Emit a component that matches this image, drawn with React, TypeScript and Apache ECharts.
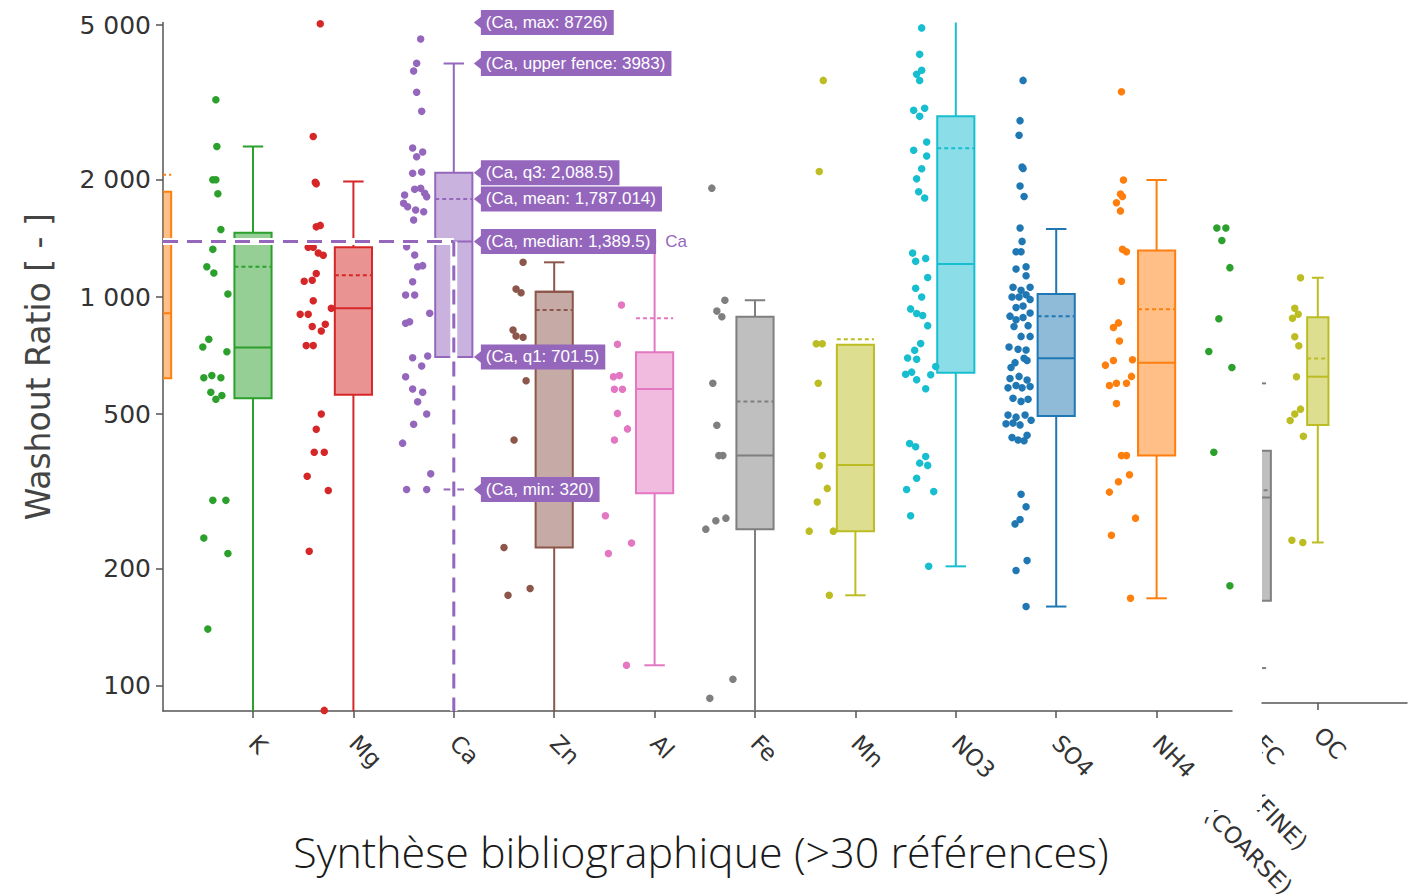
import React, { useEffect, useRef } from "react";
import * as echarts from "echarts";

// ---------------- axes ----------------
const Y_MIN = 86.2;
const Y_MAX = 5080;
const Y_TICKS = [100, 200, 500, 1000, 2000, 5000];
const Y_TICK_LABELS = ["100", "200", "500", "1 000", "2 000", "5 000"];

// main panel: categories at integer positions 0..11 (0 and 11 are only partly in view)
const MAIN_CATEGORIES = ["", "K", "Mg", "Ca", "Zn", "Al", "Fe", "Mn", "NO3", "SO4", "NH4", ""];
const MAIN_LABELLED = [1, 2, 3, 4, 5, 6, 7, 8, 9, 10];
const MAIN_X_RANGE = [0.1036, 10.751];
const MAIN_COLORS = ["#ff7f0e", "#2ca02c", "#d62728", "#9467bd", "#8c564b", "#e377c2", "#7f7f7f", "#bcbd22", "#17becf", "#1f77b4", "#ff7f0e", "#2ca02c"];

// box statistics per main category (null = box not in view)
const BOX_LOW = [200, 70, 70, 320, 70, 113, 70, 171, 203, 160, 168, null];
const BOX_Q1 = [618, 549, 561, 701.5, 227, 313, 253, 250, 639, 494, 391, null];
const BOX_MEDIAN = [908, 742, 935, 1389.5, 1032, 580, 391, 370, 1215, 696, 678, null];
const BOX_Q3 = [1865, 1463, 1343, 2088.5, 1032, 721, 890, 754, 2914, 1018, 1318, null];
const BOX_HIGH = [2500, 2437, 1983, 3983, 1228, 1390, 981, 754, 8000, 1496, 2000, null];
const BOX_MEAN = [2063, 1196, 1137, 1787.014, 926, 882, 539, 779, 2413, 893, 930, null];

// individual points (values) and their horizontal jitter (category units)
const K_VALUES = [3214, 2437, 2003, 2003, 1843, 1491, 1326, 1196, 1153, 1018, 779, 744, 723, 620, 628, 620, 569, 546, 558, 300, 300, 240, 219, 140];
const K_JITTER = [-0.37, -0.36, -0.4, -0.37, -0.35, -0.32, -0.4, -0.46, -0.39, -0.25, -0.44, -0.5, -0.26, -0.49, -0.41, -0.32, -0.42, -0.37, -0.31, -0.4, -0.27, -0.49, -0.25, -0.45];
const MG_VALUES = [5045, 2586, 1972, 1956, 1515, 1528, 1343, 1343, 1298, 1280, 1149, 1098, 1104, 978, 903, 903, 935, 840, 851, 818, 750, 750, 500, 457, 399, 399, 346, 318, 222, 86.5];
const MG_JITTER = [-0.33, -0.4, -0.38, -0.37, -0.37, -0.33, -0.45, -0.4, -0.35, -0.3, -0.37, -0.49, -0.41, -0.4, -0.53, -0.45, -0.22, -0.41, -0.28, -0.32, -0.47, -0.4, -0.32, -0.37, -0.39, -0.29, -0.46, -0.25, -0.44, -0.29];
const CA_VALUES = [4605, 3989, 3811, 3360, 3002, 2416, 2360, 2294, 2080, 2096, 1892, 1903, 1848, 1829, 1811, 1741, 1707, 1674, 1657, 1578, 1347, 1282, 1196, 1204, 1095, 1012, 1012, 908, 856, 864, 698, 705, 665, 624, 580, 569, 538, 500, 471, 421, 351, 320, 320];
const CA_JITTER = [-0.33, -0.37, -0.4, -0.37, -0.32, -0.41, -0.31, -0.37, -0.41, -0.32, -0.39, -0.33, -0.29, -0.49, -0.27, -0.5, -0.46, -0.38, -0.3, -0.4, -0.47, -0.39, -0.36, -0.31, -0.41, -0.48, -0.39, -0.24, -0.48, -0.44, -0.41, -0.26, -0.32, -0.48, -0.41, -0.31, -0.36, -0.27, -0.4, -0.51, -0.23, -0.47, -0.27];
const ZN_VALUES = [1228, 1048, 1026, 823, 794, 788, 609, 429, 227, 171, 178];
const ZN_JITTER = [-0.31, -0.38, -0.33, -0.41, -0.38, -0.31, -0.28, -0.4, -0.5, -0.46, -0.24];
const AL_VALUES = [954, 756, 624, 628, 579, 579, 502, 458, 429, 274, 219, 233, 113];
const AL_JITTER = [-0.33, -0.37, -0.41, -0.35, -0.4, -0.32, -0.37, -0.27, -0.4, -0.49, -0.46, -0.23, -0.28];
const FE_VALUES = [1905, 981, 920, 890, 600, 468, 391, 391, 253, 266, 270, 104, 92.9];
const FE_JITTER = [-0.43, -0.3, -0.38, -0.33, -0.42, -0.38, -0.36, -0.32, -0.49, -0.39, -0.29, -0.22, -0.45];
const MN_VALUES = [3606, 2103, 758, 758, 600, 391, 368, 322, 297, 250, 250, 171];
const MN_JITTER = [-0.32, -0.36, -0.39, -0.33, -0.37, -0.33, -0.36, -0.28, -0.38, -0.46, -0.22, -0.26];
const NO3_VALUES = [4920, 4207, 3738, 3828, 3604, 3021, 2914, 3057, 2385, 2503, 2305, 2138, 2013, 1864, 1797, 1297, 1236, 1257, 1122, 1053, 1000, 932, 907, 896, 844, 759, 730, 697, 692, 633, 641, 613, 581, 631, 663, 420, 412, 389, 374, 369, 342, 320, 316, 274, 203];
const NO3_JITTER = [-0.34, -0.36, -0.39, -0.34, -0.36, -0.42, -0.36, -0.31, -0.42, -0.29, -0.29, -0.34, -0.39, -0.37, -0.31, -0.43, -0.4, -0.3, -0.28, -0.4, -0.34, -0.45, -0.39, -0.33, -0.28, -0.35, -0.41, -0.48, -0.39, -0.5, -0.44, -0.39, -0.3, -0.25, -0.2, -0.46, -0.4, -0.3, -0.36, -0.28, -0.39, -0.49, -0.22, -0.45, -0.27];
const SO4_VALUES = [3606, 2841, 2607, 2160, 2140, 1930, 1814, 1504, 1390, 1307, 1307, 1181, 1196, 1134, 1060, 1041, 1060, 1000, 1000, 1013, 986, 940, 948, 910, 893, 874, 886, 844, 840, 792, 792, 744, 734, 731, 696, 678, 687, 659, 617, 625, 612, 584, 592, 584, 589, 549, 539, 546, 497, 491, 497, 472, 474, 469, 482, 435, 429, 427, 441, 311, 289, 261, 268, 198, 210, 160];
const SO4_JITTER = [-0.33, -0.36, -0.37, -0.34, -0.33, -0.36, -0.32, -0.36, -0.34, -0.4, -0.35, -0.4, -0.3, -0.3, -0.43, -0.35, -0.26, -0.44, -0.37, -0.3, -0.26, -0.4, -0.33, -0.26, -0.46, -0.4, -0.33, -0.28, -0.42, -0.35, -0.26, -0.47, -0.38, -0.3, -0.32, -0.41, -0.29, -0.45, -0.46, -0.37, -0.29, -0.48, -0.4, -0.34, -0.26, -0.43, -0.35, -0.28, -0.48, -0.4, -0.31, -0.5, -0.43, -0.36, -0.25, -0.44, -0.38, -0.32, -0.29, -0.35, -0.3, -0.41, -0.36, -0.4, -0.29, -0.3];
const NH4_VALUES = [3373, 2000, 1839, 1814, 1747, 1665, 1326, 1307, 1098, 835, 858, 771, 668, 687, 690, 592, 600, 600, 625, 532, 391, 391, 349, 335, 315, 270, 244, 168];
const NH4_JITTER = [-0.35, -0.33, -0.36, -0.34, -0.4, -0.36, -0.34, -0.3, -0.35, -0.43, -0.38, -0.37, -0.51, -0.43, -0.24, -0.47, -0.4, -0.3, -0.25, -0.4, -0.35, -0.3, -0.27, -0.38, -0.47, -0.21, -0.45, -0.26];
const NEXT_VALUES = [1504, 1504, 1398, 1190, 879, 724, 659, 399, 181];
const NEXT_JITTER = [-0.4, -0.31, -0.35, -0.27, -0.38, -0.48, -0.25, -0.43, -0.27];

const MAIN_POINTS: [number, number[], number[]][] = [
  [1, K_VALUES, K_JITTER],
  [2, MG_VALUES, MG_JITTER],
  [3, CA_VALUES, CA_JITTER],
  [4, ZN_VALUES, ZN_JITTER],
  [5, AL_VALUES, AL_JITTER],
  [6, FE_VALUES, FE_JITTER],
  [7, MN_VALUES, MN_JITTER],
  [8, NO3_VALUES, NO3_JITTER],
  [9, SO4_VALUES, SO4_JITTER],
  [10, NH4_VALUES, NH4_JITTER],
  [11, NEXT_VALUES, NEXT_JITTER],
];

// right-hand inset panel
const PANEL_CATEGORIES = ["EC (COARSE)", "EC (FINE)", "OC"];
const PANEL_POSITIONS = [15, 16, 17];
const PANEL_X_RANGE = [16.031, 18.549];
const PANEL_COLORS = ["#e377c2", "#7f7f7f", "#bcbd22"];
const PANEL_BOX_LOW = [null, 106, 223];
const PANEL_BOX_Q1 = [null, 158, 447];
const PANEL_BOX_MEDIAN = [null, 291, 595];
const PANEL_BOX_Q3 = [null, 384, 846];
const PANEL_BOX_HIGH = [null, 572, 1069];
const PANEL_BOX_MEAN = [null, 304, 663];
const OC_VALUES = [1069, 892, 861, 841, 754, 715, 595, 491, 477, 459, 418, 226, 223];
const OC_JITTER = [-0.3, -0.4, -0.34, -0.44, -0.4, -0.33, -0.37, -0.3, -0.4, -0.48, -0.25, -0.45, -0.26];

// Ca hover annotation
const HOVER_CATEGORY = 3;
const HOVER_KEYS = ["max", "upper fence", "q3", "mean", "median", "q1", "min"];
const HOVER_VALUES = [8726, 3983, 2088.5, 1787.014, 1389.5, 701.5, 320];
const HOVER_DISPLAY = ["8726", "3983", "2,088.5", "1,787.014", "1,389.5", "701.5", "320"];

const TITLE = "Synthèse bibliographique (>30 références)";
const Y_TITLE = "Washout Ratio [ - ]";

// ---------------- styling ----------------
const BOX_WIDTH = 0.37;
const CAP_RATIO = 0.55;
const FONT = '"DejaVu Sans", Verdana, sans-serif';
const HOVER_FONT = '"Liberation Sans", Arial, sans-serif';
const TEXT_COLOR = "#333";
const AXIS_COLOR = "#555";
const LABEL_MARGIN = 28;
const LABEL_SIZE = 23;

const L = (v: number) => Math.log10(v);
const Y_MIN_LOG = L(Y_MIN);
const Y_MAX_LOG = L(Y_MAX);

function renderBox(_params: any, api: any) {
  const pos = api.value(0);
  const low = api.value(1);
  const q1 = api.value(2);
  const med = api.value(3);
  const q3 = api.value(4);
  const high = api.value(5);
  const mean = api.value(6);
  const color = api.visual("color");
  const w = api.size([BOX_WIDTH, 0])[0];
  const hw = w / 2;
  const cw = (w * CAP_RATIO) / 2;
  const cx = api.coord([pos, med])[0];
  const Y = (v: number) => api.coord([pos, v])[1];
  const ls = { stroke: color, lineWidth: 2 };
  const children: any[] = [];
  if (high > q3) {
    children.push({ type: "line", shape: { x1: cx, y1: Y(q3), x2: cx, y2: Y(high) }, style: ls });
    children.push({ type: "line", shape: { x1: cx - cw, y1: Y(high), x2: cx + cw, y2: Y(high) }, style: ls });
  }
  if (low < q1) {
    children.push({ type: "line", shape: { x1: cx, y1: Y(q1), x2: cx, y2: Y(low) }, style: ls });
    children.push({ type: "line", shape: { x1: cx - cw, y1: Y(low), x2: cx + cw, y2: Y(low) }, style: ls });
  }
  children.push({
    type: "rect",
    shape: { x: cx - hw, y: Y(q3), width: w, height: Y(q1) - Y(q3) },
    style: { fill: echarts.color.modifyAlpha(color, 0.5), stroke: color, lineWidth: 2 },
  });
  children.push({ type: "line", shape: { x1: cx - hw, y1: Y(med), x2: cx + hw, y2: Y(med) }, style: ls });
  children.push({
    type: "line",
    shape: { x1: cx - hw, y1: Y(mean), x2: cx + hw, y2: Y(mean) },
    style: { stroke: color, lineWidth: 2, lineDash: [4, 3] },
  });
  return { type: "group", children };
}

function boxItems(positions: number[], colors: string[], lows: any[], q1s: any[], meds: any[], q3s: any[], highs: any[], means: any[]) {
  const items: any[] = [];
  positions.forEach((p, i) => {
    if (lows[i] == null) return;
    items.push({
      value: [p, L(lows[i]), L(q1s[i]), L(meds[i]), L(q3s[i]), L(highs[i]), L(means[i])],
      itemStyle: { color: colors[i] },
    });
  });
  return items;
}

function renderHover(params: any, api: any) {
  const cs = params.coordSys;
  const medIdx = HOVER_KEYS.indexOf("median");
  const c = api.coord([HOVER_CATEGORY, L(HOVER_VALUES[medIdx])]);
  const hw = api.size([BOX_WIDTH, 0])[0] / 2;
  const purple = MAIN_COLORS[HOVER_CATEGORY];
  const bottom = cs.y + cs.height;
  const children: any[] = [
    { type: "line", shape: { x1: cs.x, y1: c[1], x2: c[0], y2: c[1] }, style: { stroke: "#fff", lineWidth: 7 } },
    { type: "line", shape: { x1: c[0], y1: c[1], x2: c[0], y2: bottom }, style: { stroke: "#fff", lineWidth: 7 } },
    { type: "line", shape: { x1: cs.x, y1: c[1], x2: c[0], y2: c[1] }, style: { stroke: purple, lineWidth: 3, lineDash: [15, 9] } },
    { type: "line", shape: { x1: c[0], y1: c[1], x2: c[0], y2: bottom }, style: { stroke: purple, lineWidth: 3, lineDash: [15, 9] } },
  ];
  const x0 = c[0] + hw + 1.5;
  HOVER_KEYS.forEach((k, i) => {
    const yv = Math.min(L(HOVER_VALUES[i]), Y_MAX_LOG);
    const y = api.coord([HOVER_CATEGORY, yv])[1];
    children.push({
      type: "polygon",
      shape: { points: [[x0, y], [x0 + 7.5, y - 6], [x0 + 7.5, y + 6]] },
      style: { fill: purple },
    });
    const main = `{b|(${MAIN_CATEGORIES[HOVER_CATEGORY]}, ${k}: ${HOVER_DISPLAY[i]})}`;
    const name = k === "median" ? `{n|${MAIN_CATEGORIES[HOVER_CATEGORY]}}` : "";
    children.push({
      type: "text",
      x: x0 + 7,
      y,
      style: {
        text: main + name,
        align: "left",
        verticalAlign: "middle",
        rich: {
          b: {
            backgroundColor: purple,
            fill: "#fff",
            fontFamily: HOVER_FONT,
            fontSize: 17,
            lineHeight: 20,
            padding: [4, 6, 4, 5],
          },
          n: {
            backgroundColor: "#fff",
            fill: purple,
            fontFamily: HOVER_FONT,
            fontSize: 17,
            lineHeight: 20,
            padding: [4, 6, 4, 9],
          },
        },
      },
    });
  });
  return { type: "group", children };
}

function scatterSeries(pos: number, values: number[], jitter: number[], color: string, axisIndex: number) {
  const n = Math.min(values.length, jitter.length);
  const data: number[][] = [];
  for (let i = 0; i < n; i++) data.push([pos + jitter[i], L(values[i])]);
  return {
    type: "scatter",
    xAxisIndex: axisIndex,
    yAxisIndex: axisIndex,
    data,
    symbol: "circle",
    symbolSize: 7.5,
    itemStyle: { color, opacity: 1 },
    z: 3,
    silent: true,
  };
}

function yAxisLabel(v: number) {
  const i = Y_TICKS.findIndex((t) => Math.abs(L(t) - v) < 1e-6);
  return i >= 0 ? Y_TICK_LABELS[i] : "";
}

function buildOption() {
  const series: any[] = [];
  series.push({
    type: "custom",
    xAxisIndex: 0,
    yAxisIndex: 0,
    renderItem: renderBox,
    clip: true,
    z: 2,
    silent: true,
    data: boxItems(MAIN_CATEGORIES.map((_, i) => i), MAIN_COLORS, BOX_LOW, BOX_Q1, BOX_MEDIAN, BOX_Q3, BOX_HIGH, BOX_MEAN),
  });
  MAIN_POINTS.forEach(([pos, vals, jit]) => series.push(scatterSeries(pos, vals, jit, MAIN_COLORS[pos], 0)));
  series.push({
    type: "custom",
    xAxisIndex: 1,
    yAxisIndex: 1,
    renderItem: renderBox,
    clip: true,
    z: 2,
    silent: true,
    data: boxItems(PANEL_POSITIONS, PANEL_COLORS, PANEL_BOX_LOW, PANEL_BOX_Q1, PANEL_BOX_MEDIAN, PANEL_BOX_Q3, PANEL_BOX_HIGH, PANEL_BOX_MEAN),
  });
  series.push(scatterSeries(PANEL_POSITIONS[2], OC_VALUES, OC_JITTER, PANEL_COLORS[2], 1));
  series.push({
    type: "custom",
    xAxisIndex: 0,
    yAxisIndex: 0,
    renderItem: renderHover,
    clip: false,
    z: 10,
    silent: true,
    data: [[HOVER_CATEGORY, L(HOVER_VALUES[HOVER_KEYS.indexOf("median")])]],
  });

  const yTickVals = Y_TICKS.map(L);
  const xLabelStyle = {
    rotate: -45,
    margin: LABEL_MARGIN,
    fontSize: LABEL_SIZE,
    fontFamily: FONT,
    color: TEXT_COLOR,
  };
  return {
    animation: false,
    backgroundColor: "#fff",
    grid: [
      { left: 163, top: 22.5, right: 182, bottom: 183, containLabel: false, outerBoundsMode: "none" },
      { left: 1262, top: 14.5, right: 7, bottom: 191, containLabel: false, outerBoundsMode: "none" },
    ],
    xAxis: [
      {
        type: "value",
        gridIndex: 0,
        min: MAIN_X_RANGE[0],
        max: MAIN_X_RANGE[1],
        splitLine: { show: false },
        axisLine: { show: true, onZero: false, lineStyle: { color: AXIS_COLOR, width: 1.5 } },
        axisTick: { show: true, length: 7, customValues: MAIN_LABELLED, lineStyle: { color: AXIS_COLOR, width: 1.5 } },
        axisLabel: { ...xLabelStyle, customValues: MAIN_LABELLED, formatter: (v: number) => MAIN_CATEGORIES[Math.round(v)] },
      },
      {
        type: "value",
        gridIndex: 1,
        min: PANEL_X_RANGE[0],
        max: PANEL_X_RANGE[1],
        splitLine: { show: false },
        axisLine: { show: true, onZero: false, lineStyle: { color: AXIS_COLOR, width: 1.5 } },
        axisTick: { show: true, length: 7, customValues: [PANEL_POSITIONS[2]], lineStyle: { color: AXIS_COLOR, width: 1.5 } },
        axisLabel: {
          ...xLabelStyle,
          customValues: [PANEL_POSITIONS[2]],
          formatter: (v: number) => PANEL_CATEGORIES[PANEL_POSITIONS.indexOf(Math.round(v))] || "",
        },
      },
    ],
    yAxis: [
      {
        type: "value",
        gridIndex: 0,
        min: Y_MIN_LOG,
        max: Y_MAX_LOG,
        splitLine: { show: false },
        axisLine: { show: true, onZero: false, lineStyle: { color: AXIS_COLOR, width: 1.5 } },
        axisTick: { show: true, length: 7, customValues: yTickVals, lineStyle: { color: AXIS_COLOR, width: 1.5 } },
        axisLabel: { customValues: yTickVals, formatter: yAxisLabel, fontSize: 25, fontFamily: FONT, color: TEXT_COLOR, margin: 12 },
        name: Y_TITLE,
        nameLocation: "middle",
        nameGap: 108,
        nameTextStyle: { fontSize: 33, fontFamily: FONT, color: "#444" },
      },
      {
        type: "value",
        gridIndex: 1,
        min: Y_MIN_LOG,
        max: Y_MAX_LOG,
        show: false,
        splitLine: { show: false },
      },
    ],
    series,
  };
}

function buildGraphics(chart: any) {
  const g: any[] = [
    {
      type: "text",
      x: 701,
      y: 851,
      z: 50,
      style: {
        text: TITLE,
        font: '300 43px "Open Sans", "Noto Sans", sans-serif',
        fill: "#1a1a1a",
        align: "center",
        verticalAlign: "middle",
      },
    },
  ];
  // two-line labels of the inset categories whose ticks lie left of the inset's visible range
  const lineOffsets = [
    [[0, 0], [8, 72]],
    [[0, 0], [-4, 58]],
  ];
  [0, 1].forEach((i) => {
    const pt = chart.convertToPixel({ gridIndex: 1 }, [PANEL_POSITIONS[i], Y_MIN_LOG]);
    if (!pt) return;
    const parts = PANEL_CATEGORIES[i].split(" ");
    const ax = pt[0] - 2;
    const ay = pt[1] + LABEL_MARGIN + 8;
    parts.forEach((txt, j) => {
      g.push({
        type: "text",
        x: ax + lineOffsets[i][j][0],
        y: ay + lineOffsets[i][j][1],
        rotation: -Math.PI / 4,
        z: 50,
        style: {
          text: txt,
          font: `${LABEL_SIZE}px ${FONT}`,
          fill: TEXT_COLOR,
          align: "left",
          verticalAlign: "middle",
        },
      });
    });
  });
  // white cut-out where the inset panel was pasted over the main figure
  g.push({ type: "rect", z: 60, shape: { x: 1196, y: 712, width: 66, height: 96 }, style: { fill: "#fff" } });
  g.push({ type: "rect", z: 60, shape: { x: 1190, y: 790, width: 72, height: 20 }, style: { fill: "#fff" } });
  g.push({ type: "rect", z: 60, shape: { x: 1190, y: 805, width: 24, height: 12 }, style: { fill: "#fff" } });
  return g;
}

export default function App() {
  const ref = useRef<HTMLDivElement>(null);
  useEffect(() => {
    if (!ref.current) return;
    const chart = echarts.init(ref.current, undefined, { renderer: "svg" });
    chart.setOption(buildOption() as any);
    chart.setOption({ graphic: buildGraphics(chart) } as any);
    return () => chart.dispose();
  }, []);
  return (
    <div
      ref={ref}
      style={{ position: "fixed", left: 0, top: 0, width: 1414, height: 894, background: "#fff" }}
    />
  );
}
